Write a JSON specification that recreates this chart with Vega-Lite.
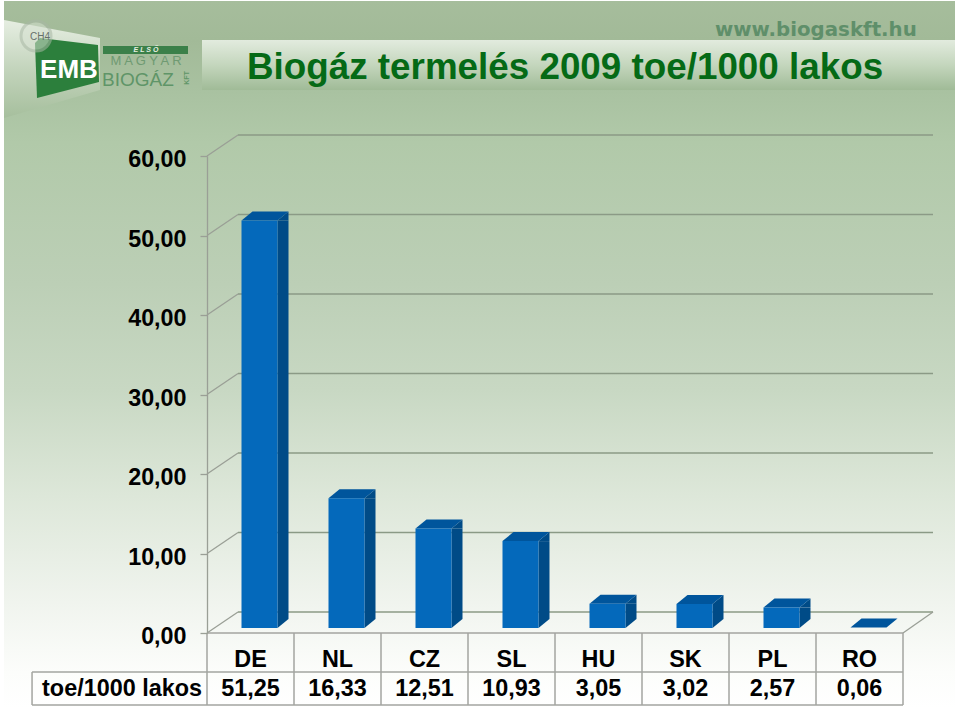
{"$schema":"https://vega.github.io/schema/vega-lite/v6.json","width":951,"height":707,"autosize":{"type":"none"},"padding":{"left":4,"top":1,"right":4,"bottom":0},"background":"white","config":{"view":{"stroke":null},"font":"Liberation Sans"},
"title":{"text":"Biogáz termelés 2009 toe/1000 lakos","anchor":"start","frame":"group","dx":243,"dy":115,"offset":0,"baseline":"alphabetic","font":"Liberation Sans","fontSize":36.8,"fontWeight":"bold","color":"#056a16"},
"datasets":{"bars":[{"country":"DE","value":51.25,"label":"51,25"},{"country":"NL","value":16.33,"label":"16,33"},{"country":"CZ","value":12.51,"label":"12,51"},{"country":"SL","value":10.93,"label":"10,93"},{"country":"HU","value":3.05,"label":"3,05"},{"country":"SK","value":3.02,"label":"3,02"},{"country":"PL","value":2.57,"label":"2,57"},{"country":"RO","value":0.06,"label":"0,06"}],"ticks":[{"t":0},{"t":10},{"t":20},{"t":30},{"t":40},{"t":50},{"t":60}],"cols":[{"i":0},{"i":1},{"i":2},{"i":3},{"i":4},{"i":5},{"i":6},{"i":7},{"i":8}],"one":[{"n":1}]},
"data":{"name":"one"},
"resolve":{"scale":{"x":"independent"}},
"layer":[
{"mark":{"type":"rect","fill":{"gradient":"linear","x1":0,"y1":0,"x2":0,"y2":1,"stops":[{"offset":0,"color":"#a6bd9c"},{"offset":0.055,"color":"#a2ba98"},{"offset":0.13,"color":"#a9c2a1"},{"offset":0.2,"color":"#b1c9a9"},{"offset":0.4,"color":"#bccfb6"},{"offset":0.55,"color":"#c8d8c3"},{"offset":0.7,"color":"#dde7d9"},{"offset":0.85,"color":"#f0f4ee"},{"offset":0.95,"color":"#fcfdfb"},{"offset":1,"color":"#ffffff"}]}},"encoding":{}},
{"layer":[
{"data":{"name":"ticks"},"mark":{"type":"rule","color":"#8b9a86","strokeWidth":1.3,"xOffset":31,"x2Offset":30,"yOffset":-21},"encoding":{"x":{"datum":0,"type":"quantitative","scale":{"domain":[0,8],"range":[203,899]},"axis":null},"x2":{"datum":8},"y":{"field":"t","type":"quantitative","scale":{"domain":[0,60],"range":[632,155]},"axis":{"orient":"left","offset":-203,"title":null,"values":[0,10,20,30,40,50,60],"grid":false,"zindex":1,"domainColor":"#9a9f96","domainWidth":1.3,"tickColor":"#9a9f96","tickWidth":1.3,"tickSize":7,"labelPadding":14,"labelOffset":3.5,"labelFont":"Liberation Sans","labelFontSize":23.3,"labelFontWeight":"bold","labelColor":"#000000","labelExpr":"replace(format(datum.value,'.2f'),'.',',')"}}}},
{"data":{"name":"ticks"},"mark":{"type":"rule","color":"#9a9f96","strokeWidth":1.3,"x2Offset":31,"y2Offset":-21},"encoding":{"x":{"datum":0,"type":"quantitative"},"x2":{"datum":0},"y":{"field":"t","type":"quantitative"},"y2":{"field":"t"}}},
{"mark":{"type":"rule","color":"#9a9f96","strokeWidth":1.3,"x2Offset":30,"y2Offset":-21},"encoding":{"x":{"datum":8,"type":"quantitative"},"x2":{"datum":8},"y":{"datum":0,"type":"quantitative"},"y2":{"datum":0}}},
{"data":{"name":"cols"},"mark":{"type":"rule","color":"#a3a5a0","strokeWidth":1.5},"encoding":{"x":{"field":"i","type":"quantitative"},"y":{"datum":0,"type":"quantitative"},"y2":{"datum":-9.06}}},
{"mark":{"type":"rule","color":"#a3a5a0","strokeWidth":1.5},"encoding":{"x":{"datum":-2.011,"type":"quantitative"},"y":{"datum":-4.9,"type":"quantitative"},"y2":{"datum":-9.06}}},
{"mark":{"type":"rule","color":"#a3a5a0","strokeWidth":1.5},"encoding":{"x":{"datum":0,"type":"quantitative"},"x2":{"datum":8},"y":{"datum":0,"type":"quantitative"}}},
{"mark":{"type":"rule","color":"#a3a5a0","strokeWidth":1.5},"encoding":{"x":{"datum":-2.011,"type":"quantitative"},"x2":{"datum":8},"y":{"datum":-4.9,"type":"quantitative"}}},
{"mark":{"type":"rule","color":"#a3a5a0","strokeWidth":1.5},"encoding":{"x":{"datum":-2.011,"type":"quantitative"},"x2":{"datum":8},"y":{"datum":-9.06,"type":"quantitative"}}},
{"mark":{"type":"text","text":"toe/1000 lakos","align":"right","baseline":"middle","fontSize":23.4,"fontWeight":"bold","color":"#000000","xOffset":-5,"yOffset":56},"encoding":{"x":{"datum":0,"type":"quantitative"},"y":{"datum":0,"type":"quantitative"}}},
{"mark":{"type":"point","filled":true,"opacity":1,"strokeWidth":0,"size":4,"shape":"M-203,-136 L-107,-118 L-107,-66 L-203,-38 Z","fill":{"gradient":"linear","x1":0,"y1":0,"x2":0,"y2":1,"stops":[{"offset":0,"color":"#e6eee2"},{"offset":0.5,"color":"#c3d4bc"},{"offset":1,"color":"#a6bf9d"}]}},"encoding":{"x":{"datum":0,"type":"quantitative"},"y":{"datum":60,"type":"quantitative"}}},
{"mark":{"type":"point","filled":true,"opacity":1,"strokeWidth":0,"size":4,"shape":"M-5,-116 L748,-116 L748,-66 L-5,-66 Z","fill":{"gradient":"linear","x1":0,"y1":0,"x2":0,"y2":1,"stops":[{"offset":0,"color":"#e2ebde"},{"offset":0.5,"color":"#c4d6bd"},{"offset":1,"color":"#a0bb97"}]}},"encoding":{"x":{"datum":0,"type":"quantitative"},"y":{"datum":60,"type":"quantitative"}}},
{"mark":{"type":"point","filled":true,"opacity":1,"strokeWidth":0,"size":4,"shape":"M-167,-118 L-109,-111 L-108,-74 L-170,-58 L-172,-113 Z","fill":"#2c7f3c"},"encoding":{"x":{"datum":0,"type":"quantitative"},"y":{"datum":60,"type":"quantitative"}}},
{"mark":{"type":"point","filled":true,"opacity":1,"strokeWidth":0,"size":4,"shape":"M-104,-110 L-19,-110 L-19,-102 L-104,-102 Z","fill":"#3b8049"},"encoding":{"x":{"datum":0,"type":"quantitative"},"y":{"datum":60,"type":"quantitative"}}},
{"mark":{"type":"point","filled":true,"opacity":0.55,"stroke":"#a9b8a5","strokeWidth":3,"size":4,"shape":"M-186,-120 A15,15 0 1,1 -156,-120 A15,15 0 1,1 -186,-120 Z","fill":"#d5e0d0"},"encoding":{"x":{"datum":0,"type":"quantitative"},"y":{"datum":60,"type":"quantitative"}}},
{"mark":{"type":"text","text":"CH4","align":"center","baseline":"alphabetic","fontSize":10,"color":"#66706a","xOffset":-167,"yOffset":-116},"encoding":{"x":{"datum":0,"type":"quantitative"},"y":{"datum":60,"type":"quantitative"}}},
{"mark":{"type":"text","text":"EMB","align":"center","baseline":"alphabetic","fontSize":26,"fontWeight":"bold","color":"#ffffff","xOffset":-138,"yOffset":-78},"encoding":{"x":{"datum":0,"type":"quantitative"},"y":{"datum":60,"type":"quantitative"}}},
{"mark":{"type":"text","text":"E   L   S   Ő","align":"center","baseline":"alphabetic","fontSize":7,"fontWeight":"bold","fontStyle":"italic","color":"#e6efe2","xOffset":-61,"yOffset":-104},"encoding":{"x":{"datum":0,"type":"quantitative"},"y":{"datum":60,"type":"quantitative"}}},
{"mark":{"type":"text","text":"M A G Y A R","align":"center","baseline":"alphabetic","fontSize":13,"color":"#6f9a72","xOffset":-61,"yOffset":-91},"encoding":{"x":{"datum":0,"type":"quantitative"},"y":{"datum":60,"type":"quantitative"}}},
{"mark":{"type":"text","text":"BIOGÁZ","align":"left","baseline":"alphabetic","fontSize":19,"color":"#5f9568","xOffset":-105,"yOffset":-70},"encoding":{"x":{"datum":0,"type":"quantitative"},"y":{"datum":60,"type":"quantitative"}}},
{"mark":{"type":"text","text":"KFT","angle":270,"align":"center","baseline":"middle","fontSize":7,"fontWeight":"bold","color":"#5f9568","xOffset":-20,"yOffset":-78},"encoding":{"x":{"datum":0,"type":"quantitative"},"y":{"datum":60,"type":"quantitative"}}},
{"mark":{"type":"text","text":"www.biogaskft.hu","font":"DejaVu Sans","align":"left","baseline":"alphabetic","fontSize":19.8,"fontWeight":"bold","color":"#5f8f6a","xOffset":508,"yOffset":-120},"encoding":{"x":{"datum":0,"type":"quantitative"},"y":{"datum":60,"type":"quantitative"}}}
]},
{"data":{"name":"bars"},"layer":[
{"transform":[{"filter":"datum.value > 1"}],"mark":{"type":"bar","width":11,"xOffset":32.5,"yOffset":-5,"y2Offset":-14,"color":"#004b87"},"encoding":{"x":{"field":"country","type":"nominal","sort":null,"axis":null,"scale":{"range":[203,899],"paddingInner":0,"paddingOuter":0}},"y":{"field":"value","type":"quantitative"},"y2":{"datum":0}}},
{"transform":[{"filter":"datum.value > 1"}],"mark":{"type":"point","filled":true,"opacity":1,"strokeWidth":0,"size":4,"xOffset":9,"yOffset":-5,"shape":"M18,0 L29,-9 L29,0 Z","fill":"#004b87"},"encoding":{"x":{"field":"country","type":"nominal","sort":null},"y":{"field":"value","type":"quantitative"}}},
{"transform":[{"filter":"datum.value > 1"}],"mark":{"type":"point","filled":true,"opacity":1,"strokeWidth":0,"size":4,"xOffset":9,"yOffset":-5,"shape":"M18,0 L18,-9 L29,-9 Z","fill":"#004b87"},"encoding":{"x":{"field":"country","type":"nominal","sort":null},"y":{"datum":0,"type":"quantitative"}}},
{"mark":{"type":"point","filled":true,"opacity":1,"strokeWidth":0,"size":4,"xOffset":9,"yOffset":-5,"shape":"M-18,0 L18,0 L29,-9 L-7,-9 Z","fill":"#00559c"},"encoding":{"x":{"field":"country","type":"nominal","sort":null},"y":{"field":"value","type":"quantitative"}}},
{"transform":[{"filter":"datum.value > 1"}],"mark":{"type":"bar","width":36,"xOffset":9,"yOffset":-5,"y2Offset":-5,"color":"#0469bb"},"encoding":{"x":{"field":"country","type":"nominal","sort":null},"y":{"field":"value","type":"quantitative"},"y2":{"datum":0}}},
{"mark":{"type":"text","align":"center","baseline":"middle","fontSize":23.4,"fontWeight":"bold","color":"#000000","yOffset":26.5},"encoding":{"x":{"field":"country","type":"nominal","sort":null},"y":{"datum":0,"type":"quantitative"},"text":{"field":"country"}}},
{"mark":{"type":"text","align":"center","baseline":"middle","fontSize":23.4,"fontWeight":"bold","color":"#000000","yOffset":56},"encoding":{"x":{"field":"country","type":"nominal","sort":null},"y":{"datum":0,"type":"quantitative"},"text":{"field":"label"}}}
]}
]}
